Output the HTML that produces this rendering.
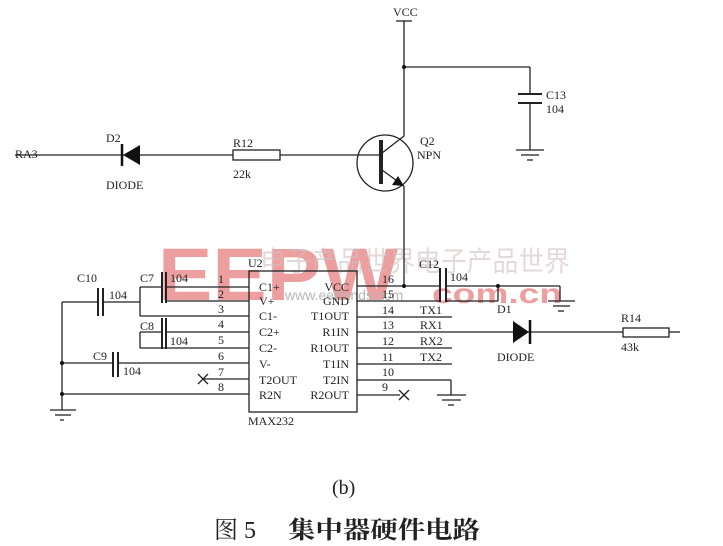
<!DOCTYPE html>
<html><head><meta charset="utf-8"><style>
html,body{margin:0;padding:0;background:#fff;}
svg{display:block}
text{font-family:"Liberation Serif",serif;fill:#222;}
</style></head><body>
<svg width="723" height="546" viewBox="0 0 723 546" xmlns="http://www.w3.org/2000/svg">
<!-- watermark -->
<g fill="#e98b8b" opacity="0.85">
<text x="158" y="300" style="font-family:'Liberation Sans',sans-serif;font-weight:bold;font-size:74px;fill:#ea8e8e" textLength="240" lengthAdjust="spacingAndGlyphs">EEPW</text>
<text x="432" y="303" style="font-family:'Liberation Sans',sans-serif;font-weight:bold;font-size:28px;fill:#ea8e8e" textLength="130" lengthAdjust="spacingAndGlyphs">com.cn</text>
<text x="260" y="271" style="font-family:'Noto Sans CJK SC',sans-serif;font-size:28px;fill:#c8b4b4;opacity:0.6" textLength="310" lengthAdjust="spacingAndGlyphs">电子产品世界电子产品世界</text>
<text x="285" y="300" style="font-family:'Liberation Sans',sans-serif;font-size:14px;fill:#aaa">www.eetrends.com</text>
</g>
<g stroke="#222" stroke-width="1.3" fill="none">
<!-- top VCC -->
<line x1="396" y1="21" x2="412" y2="21"/>
<line x1="404" y1="21" x2="404" y2="136"/>
<line x1="404" y1="67" x2="530" y2="67"/>
<line x1="530" y1="67" x2="530" y2="94"/>
<line x1="518" y1="94" x2="542" y2="94" stroke-width="2"/>
<line x1="518" y1="103" x2="542" y2="103" stroke-width="2"/>
<line x1="530" y1="103" x2="530" y2="150"/>
<line x1="516" y1="150" x2="544" y2="150"/>
<line x1="521" y1="155" x2="539" y2="155"/>
<line x1="527" y1="160" x2="533" y2="160"/>
<!-- RA3 line -->
<line x1="15" y1="155" x2="233" y2="155"/>
<rect x="233" y="150" width="47" height="10"/>
<line x1="280" y1="155" x2="380" y2="155"/>
<!-- transistor -->
<circle cx="385" cy="163" r="28"/>
<line x1="381" y1="140" x2="381" y2="184" stroke-width="4"/>
<line x1="382" y1="153" x2="404" y2="136"/>
<line x1="382" y1="170" x2="404" y2="186"/>
<line x1="404" y1="186" x2="404" y2="286"/>
<!-- IC box -->
<rect x="249" y="271" width="108" height="141"/>
<!-- left pins -->
<line x1="166" y1="287" x2="249" y2="287"/>
<line x1="166" y1="301" x2="249" y2="301"/>
<line x1="140" y1="316" x2="249" y2="316"/>
<line x1="166" y1="332" x2="249" y2="332"/>
<line x1="140" y1="348" x2="249" y2="348"/>
<line x1="62" y1="363" x2="113" y2="363"/>
<line x1="118" y1="363" x2="249" y2="363"/>
<line x1="202" y1="379" x2="249" y2="379"/>
<line x1="62" y1="394" x2="249" y2="394"/>
<!-- C7 -->
<line x1="140" y1="287" x2="162" y2="287"/>
<line x1="140" y1="287" x2="140" y2="316"/>
<line x1="162" y1="272" x2="162" y2="303" stroke-width="2"/>
<line x1="166" y1="272" x2="166" y2="303" stroke-width="2"/>
<!-- C10 -->
<line x1="62" y1="302" x2="98" y2="302"/>
<line x1="103" y1="302" x2="140" y2="302"/>
<line x1="98" y1="288" x2="98" y2="316" stroke-width="2"/>
<line x1="103" y1="288" x2="103" y2="316" stroke-width="2"/>
<!-- C8 -->
<line x1="140" y1="332" x2="162" y2="332"/>
<line x1="140" y1="332" x2="140" y2="348"/>
<line x1="162" y1="318" x2="162" y2="349" stroke-width="2"/>
<line x1="166" y1="318" x2="166" y2="349" stroke-width="2"/>
<!-- C9 -->
<line x1="113" y1="352" x2="113" y2="377" stroke-width="2"/>
<line x1="118" y1="352" x2="118" y2="377" stroke-width="2"/>
<!-- left ground -->
<line x1="62" y1="302" x2="62" y2="410"/>
<line x1="50" y1="410" x2="76" y2="410"/>
<line x1="55" y1="415" x2="71" y2="415"/>
<line x1="60" y1="420" x2="64" y2="420"/>
<!-- X pin7 -->
<line x1="198" y1="374" x2="208" y2="384"/>
<line x1="198" y1="384" x2="208" y2="374"/>
<!-- right pins -->
<line x1="357" y1="286" x2="440" y2="286"/>
<line x1="446" y1="286" x2="560" y2="286"/>
<line x1="560" y1="286" x2="560" y2="301"/>
<line x1="548" y1="301" x2="575" y2="301"/>
<line x1="553" y1="306" x2="570" y2="306"/>
<line x1="558" y1="311" x2="564" y2="311"/>
<line x1="357" y1="301" x2="440" y2="301"/>
<line x1="446" y1="301" x2="498" y2="301"/>
<line x1="498" y1="286" x2="498" y2="301"/>
<line x1="440" y1="268" x2="440" y2="302" stroke-width="2"/>
<line x1="446" y1="268" x2="446" y2="302" stroke-width="2"/>
<line x1="357" y1="317" x2="452" y2="317"/>
<line x1="357" y1="332" x2="623" y2="332"/>
<rect x="623" y="328" width="46" height="9"/>
<line x1="669" y1="332" x2="680" y2="332"/>
<line x1="357" y1="348" x2="452" y2="348"/>
<line x1="357" y1="364" x2="452" y2="364"/>
<line x1="357" y1="380" x2="451" y2="380"/>
<line x1="451" y1="380" x2="451" y2="395"/>
<line x1="437" y1="395" x2="466" y2="395"/>
<line x1="442" y1="400" x2="461" y2="400"/>
<line x1="448" y1="405" x2="454" y2="405"/>
<line x1="357" y1="395" x2="400" y2="395"/>
<line x1="399" y1="390" x2="409" y2="400"/>
<line x1="399" y1="400" x2="409" y2="390"/>
</g>
<!-- diodes -->
<polygon points="140,145 140,165 123,155" fill="#111"/>
<line x1="122" y1="144" x2="122" y2="166" stroke="#111" stroke-width="2.5"/>
<polygon points="513,321 513,343 529,332" fill="#111"/>
<line x1="530" y1="320" x2="530" y2="344" stroke="#111" stroke-width="2.5"/>
<!-- emitter arrow -->
<polygon points="404,186 392,185 398,176" fill="#111"/>
<!-- dots -->
<g fill="#111">
<circle cx="404" cy="67" r="2"/><circle cx="404" cy="286" r="2"/>
<circle cx="498" cy="286" r="2"/><circle cx="62" cy="363" r="2"/><circle cx="62" cy="394" r="2"/>
</g>
<!-- labels -->
<g font-size="12">
<text x="393" y="16">VCC</text>
<text x="546" y="99">C13</text><text x="546" y="113">104</text>
<text x="15" y="158">RA3</text>
<text x="106" y="142">D2</text><text x="106" y="189">DIODE</text>
<text x="233" y="147">R12</text><text x="233" y="178">22k</text>
<text x="420" y="145">Q2</text><text x="417" y="159">NPN</text>
<text x="248" y="267">U2</text><text x="248" y="425">MAX232</text>
<text x="77" y="282">C10</text><text x="109" y="299">104</text>
<text x="140" y="282">C7</text><text x="170" y="282">104</text>
<text x="140" y="330">C8</text><text x="170" y="345">104</text>
<text x="93" y="360">C9</text><text x="123" y="375">104</text>
<text x="218" y="283">1</text><text x="218" y="298">2</text><text x="218" y="313">3</text>
<text x="218" y="328">4</text><text x="218" y="344">5</text><text x="218" y="360">6</text>
<text x="218" y="376">7</text><text x="218" y="391">8</text>
<text x="259" y="291">C1+</text><text x="259" y="305">V+</text><text x="259" y="320">C1-</text>
<text x="259" y="336">C2+</text><text x="259" y="352">C2-</text><text x="259" y="368">V-</text>
<text x="259" y="384">T2OUT</text><text x="259" y="399">R2N</text>
<text x="349" y="291" text-anchor="end">VCC</text><text x="349" y="305" text-anchor="end">GND</text>
<text x="349" y="320" text-anchor="end">T1OUT</text><text x="349" y="336" text-anchor="end">R1IN</text>
<text x="349" y="352" text-anchor="end">R1OUT</text><text x="349" y="368" text-anchor="end">T1IN</text>
<text x="349" y="384" text-anchor="end">T2IN</text><text x="349" y="399" text-anchor="end">R2OUT</text>
<text x="382" y="283">16</text><text x="382" y="298">15</text><text x="382" y="314">14</text>
<text x="382" y="329">13</text><text x="382" y="345">12</text><text x="382" y="361">11</text>
<text x="382" y="376">10</text><text x="382" y="391">9</text>
<text x="420" y="314">TX1</text><text x="420" y="329">RX1</text><text x="420" y="345">RX2</text><text x="420" y="361">TX2</text>
<text x="419" y="268">C12</text><text x="450" y="281">104</text>
<text x="497" y="313">D1</text><text x="497" y="361">DIODE</text>
<text x="621" y="322">R14</text><text x="621" y="351">43k</text>
</g>
<text x="332" y="494" font-size="20">(b)</text>
<text x="214" y="538" style="font-family:'Liberation Serif','Noto Serif CJK SC',serif;font-size:24px">图 5 </text>
<text x="288" y="538" style="font-family:'Noto Serif CJK SC',serif;font-size:24px;font-weight:bold" textLength="192" lengthAdjust="spacingAndGlyphs">集中器硬件电路</text>
</svg>
</body></html>
